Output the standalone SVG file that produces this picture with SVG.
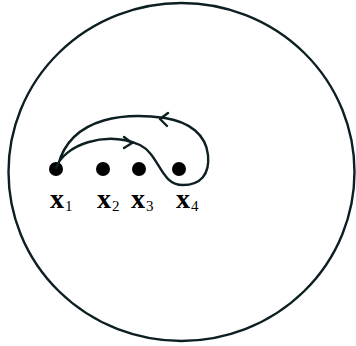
<svg xmlns="http://www.w3.org/2000/svg" width="356" height="346" viewBox="0 0 356 346">
<style>
.ln{fill:none;stroke:#0d1f22;stroke-width:2.4;stroke-linecap:round;stroke-linejoin:round}
.dot{fill:#000}
.v{font-family:"Liberation Serif",serif;font-weight:bold;font-size:28px;fill:#000}
.s{font-family:"Liberation Serif",serif;font-size:15px;fill:#000}
</style>
<rect width="356" height="346" fill="#fff"/>
<g id="boundary"><ellipse class="ln" cx="181.5" cy="172" rx="173" ry="169"/></g>
<g id="x1"><circle class="dot" cx="56" cy="169" r="7"/><text class="v" x="50" y="208">x</text><text class="s" x="65" y="211">1</text></g>
<g id="x2"><circle class="dot" cx="103" cy="169" r="7"/><text class="v" x="97" y="208">x</text><text class="s" x="112" y="211">2</text></g>
<g id="x3"><circle class="dot" cx="139" cy="169" r="7"/><text class="v" x="131" y="208">x</text><text class="s" x="146" y="211">3</text></g>
<g id="x4"><circle class="dot" cx="179" cy="169" r="7"/><text class="v" x="176" y="208">x</text><text class="s" x="191" y="211">4</text></g>
<g id="connectors">
<path class="ln" d="M56,168 C64,145 105,130 140,145 C160,155 160,185 183,185 C200,185 210,175 208,155 C206,135 190,122 165,118 C130,113 72,114 58,165"/>
<path class="ln" d="M124,137 L132,143 L124,148"/>
<path class="ln" d="M168,113 L160,119 L167,126"/>
</g>
</svg>
